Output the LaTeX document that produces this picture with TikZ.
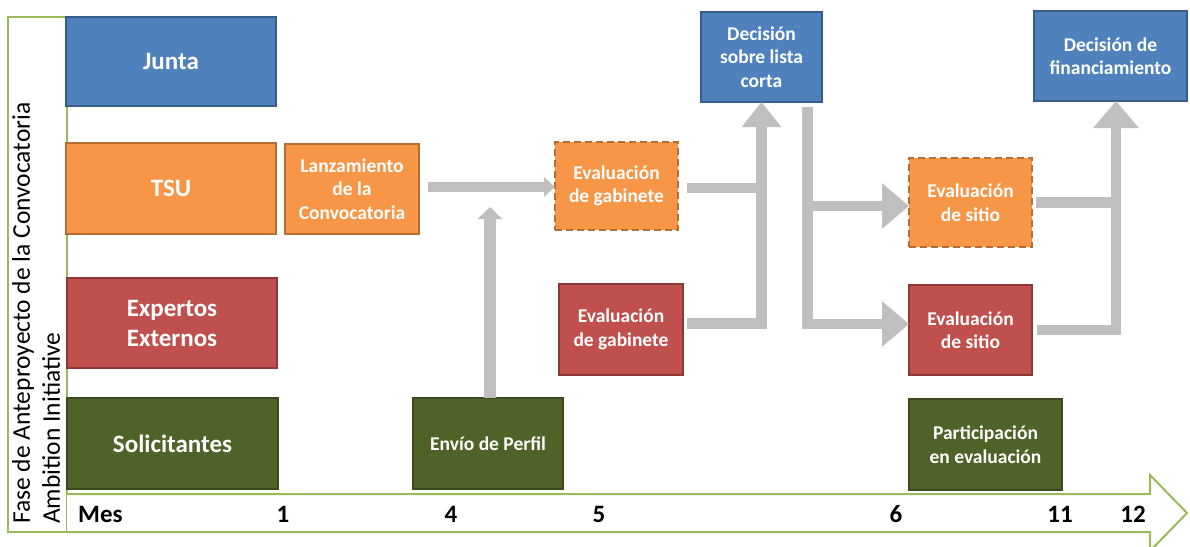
\documentclass[tikz,border=0pt]{standalone}
\usepackage{fontspec}
\setmainfont{Carlito}
\usetikzlibrary{arrows.meta,calc}
\definecolor{bfill}{HTML}{4F81BD}\definecolor{bdraw}{HTML}{385D8A}
\definecolor{ofill}{HTML}{F79646}\definecolor{odraw}{HTML}{B66D31}
\definecolor{rfill}{HTML}{C0504D}\definecolor{rdraw}{HTML}{8C3836}
\definecolor{gfill}{HTML}{4F6228}\definecolor{gdraw}{HTML}{3B4A1E}
\definecolor{frameg}{HTML}{9BBB59}
\definecolor{arrg}{HTML}{BFBFBF}
\tikzset{
  area/.style n args={4}{at={({(#1+#3)/2},{(#2+#4)/2})},
    minimum width={(#3-#1)*1pt}, minimum height={(#4-#2)*1pt}},
  boxbase/.style={draw, line width=1.6pt, inner sep=0pt, outer sep=0pt, align=center, text=white,
    font=\fontsize{19.5}{23.5}\selectfont\bfseries},
  bigtxt/.style={font=\fontsize{25}{30}\selectfont\bfseries},
  bluebox/.style={boxbase, fill=bfill, draw=bdraw},
  orangebox/.style={boxbase, fill=ofill, draw=odraw},
  orangedash/.style={boxbase, fill=ofill, draw=odraw, line width=2pt, dash pattern=on 7pt off 4pt},
  redbox/.style={boxbase, fill=rfill, draw=rdraw},
  greenbox/.style={boxbase, fill=gfill, draw=gdraw},
  gline/.style={draw=arrg, line width=10.5pt, line join=miter, line cap=butt},
  bighead/.style={-{Triangle[width=38pt,length=25pt]}},
  widehead/.style={-{Triangle[width=44pt,length=27pt]}},
  axl/.style={inner sep=0pt, font=\fontsize{25}{30}\selectfont\bfseries, text=black}
}
\begin{document}
\begin{tikzpicture}[x=1pt,y=-1pt]
\useasboundingbox (0,0) rectangle (1190,546);
% left frame
\node[draw=frameg, line width=2pt, inner sep=0pt, outer sep=0pt, area={8}{17}{67}{532}] (frame) {};
\node[rotate=90, anchor=north west, align=left, inner sep=0pt,
      font=\fontsize{25.5}{30}\selectfont] (fase) at (12,524)
      {Fase de Anteproyecto de la Convocatoria\\Ambition Initiative};
% time axis
\draw[fill=white, draw=frameg, line width=2pt, line join=miter]
  (67,494) -- (1150,494) -- (1150,475) -- (1187,513) -- (1150,551) -- (1150,532) -- (67,532);
\node[axl, anchor=west] (mes) at (78,514) {Mes};
\node[axl] (m1) at (283,514) {1};
\node[axl] (m4) at (451,514) {4};
\node[axl] (m5) at (599,514) {5};
\node[axl] (m6) at (896,514) {6};
\node[axl] (m11) at (1060,514) {11};
\node[axl] (m12) at (1133,514) {12};
% row labels
\node[bluebox, bigtxt, area={66}{17}{276}{106}] (junta) {Junta};
\node[orangebox, bigtxt, area={66}{143}{276}{234}] (tsu) {TSU};
\node[redbox, bigtxt, area={67}{278}{277}{368}] (exp) {Expertos\\Externos};
\node[greenbox, bigtxt, area={67}{398}{278}{489}] (sol) {Solicitantes};
% process boxes
\node[orangebox, area={285}{144}{419}{234}] (lanz) {Lanzamiento\\de la\\Convocatoria};
\node[orangedash, area={555}{142}{678}{230}] (egab) {Evaluación\\de gabinete};
\node[redbox, area={559}{284}{683}{375}] (ered) {Evaluación\\de gabinete};
\node[greenbox, area={413}{398}{563}{489}] (envio) {Envío de Perfil};
\node[bluebox, area={701}{12}{822}{102}] (dls) {Decisión\\sobre lista\\corta};
\node[bluebox, area={1034}{11}{1187}{101}] (dfin) {Decisión de\\financiamiento};
\node[orangedash, area={909}{158}{1032}{247}] (esit) {Evaluación\\de sitio};
\node[redbox, area={909}{285}{1032}{375}] (esitr) {Evaluación\\de sitio};
\node[greenbox, area={909}{399}{1062}{490}] (part) {Participación\\en evaluación};
% connectors
\draw[gline, line width=10pt, -{Triangle[width=19pt,length=11pt]}]
  ($(lanz.east)+(9,-2)$) -- ($(lanz.east -| egab.west)+(0,-2)$);
\coordinate (entip) at (490,207);
\draw[gline, line width=11.5pt, -{Triangle[width=24pt,length=12pt]}]
  (envio.north -| entip) -- (entip);
\draw[gline] ($(egab.east)+(9,2)$) -- ($(egab.east -| dls.south)+(0,2)$);
\draw[gline, bighead] ($(ered.east)+(4,-6)$) -| (dls.south);
\coordinate (dj) at ($(dls.south)+(46,5)$);
\draw[gline, widehead] (dj) |- ($(esitr.west)+(0,-6)$);
\draw[gline, widehead] ($(dj |- esit.west)+(0,3.5)$) -- ($(esit.west)+(0,3.5)$);
\coordinate (fin) at ($(dfin.south)+(5.5,0)$);
\draw[gline, widehead] ($(esitr.east)+(5,0)$) -| (fin);
\draw[gline] ($(esit.east)+(4,0)$) -- (esit.east -| fin);
\end{tikzpicture}
\end{document}
